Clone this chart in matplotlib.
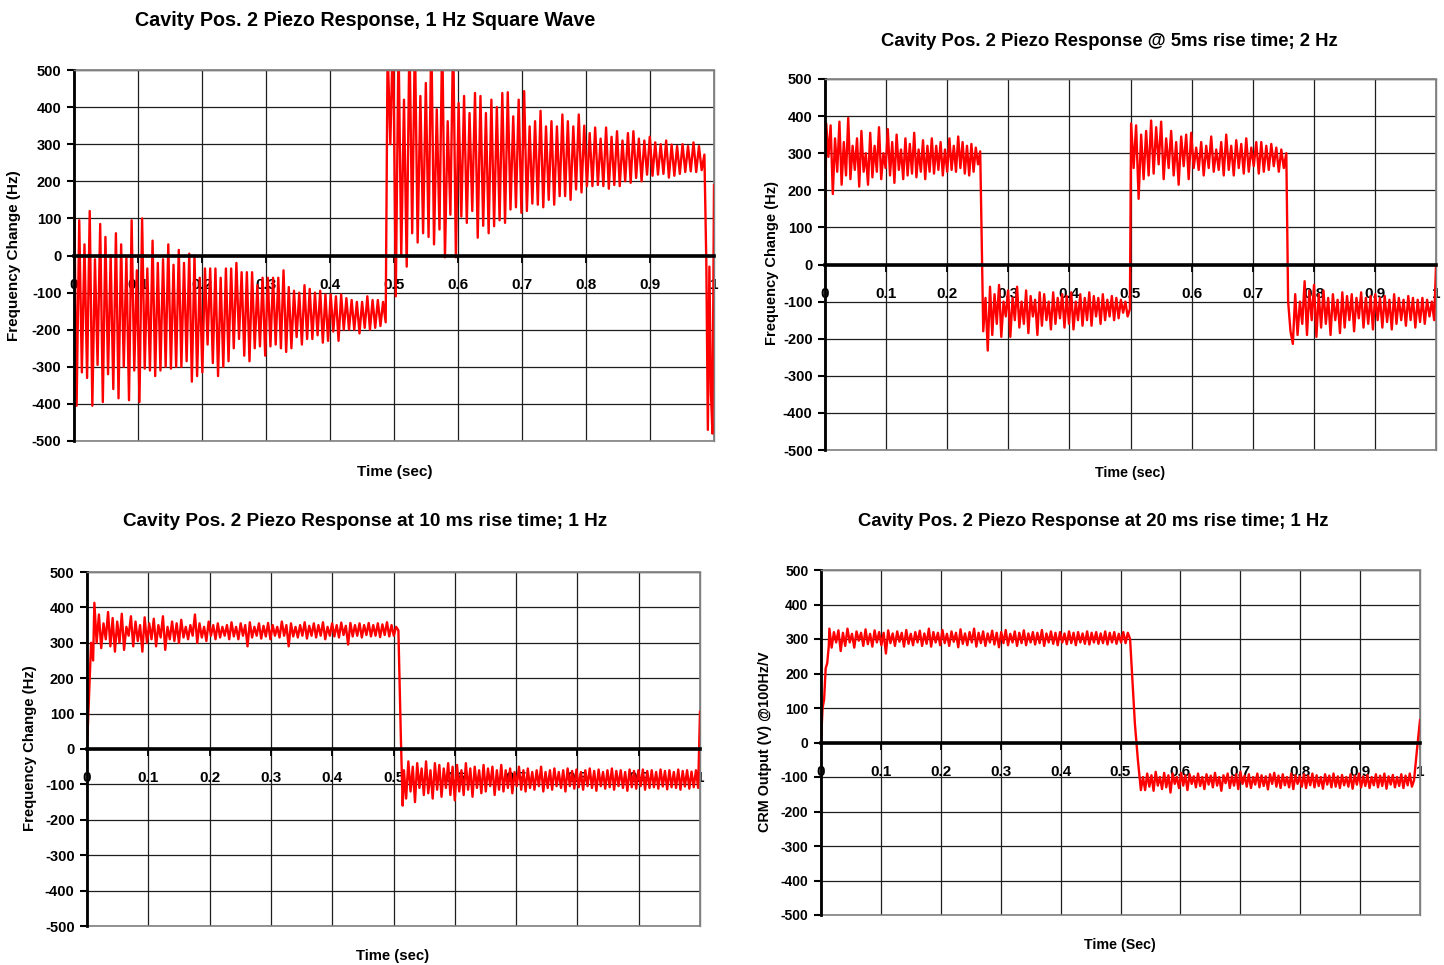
import matplotlib

matplotlib.use("Agg")
import matplotlib.pyplot as plt
import numpy as np
from matplotlib.patches import Rectangle

plt.rcParams["font.family"] = ["Liberation Sans", "DejaVu Sans"]
plt.rcParams["font.weight"] = "bold"
plt.rcParams["axes.unicode_minus"] = False

RED = "#ff0000"

# ---- data (Hz); each block is spread evenly over its time span ----
# panel 1: 1 Hz square wave
p1_low = [195, -405, 95, -315, 30, -330, 120, -405, -10, -295, 85, -395, 50, -320, 0, -360,
          60, -385, 30, -300, -5, -390, 95, -310, -40, -395, 100, -305, -35, -310, 40, -325,
          -20, -310, -10, -300, 30, -305, -25, -300, 15, -300, -20, -285, 5, -340, 0, -325,
          -60, -315, -35, -240, -35, -290, -35, -325, -60, -300, -35, -285, -35, -250, -20, -225,
          -45, -270, -45, -285, -45, -250, -80, -245, -60, -270, -60, -245, -60, -240, -60, -250,
          -40, -260, -85, -250, -95, -220, -100, -240, -80, -225, -90, -225, -100, -215, -95, -235,
          -105, -230, -105, -205, -110, -230, -105, -200, -115, -200, -120, -200, -125, -210, -125, -195,
          -110, -200, -120, -195, -120, -190, -125, -180]
p1_high = [560, 300, 620, -110, 580, 0, 420, -30, 600, 60, 590, 35, 430, 60, 465, 50,
           600, 30, 394, 70, 600, -5, 362, 110, 600, -5, 411, 105, 430, 88, 384, 120,
           438, 48, 430, 80, 384, 60, 420, 79, 400, 95, 438, 88, 440, 124, 375, 130,
           420, 115, 443, 120, 348, 140, 362, 137, 390, 130, 348, 150, 362, 137, 348, 160,
           380, 160, 362, 150, 348, 178, 380, 170, 350, 187, 330, 187, 345, 190, 315, 187,
           345, 180, 320, 190, 335, 187, 310, 200, 330, 196, 335, 209, 315, 200, 310, 218,
           320, 215, 305, 218, 300, 220, 310, 210, 299, 215, 295, 220, 300, 225, 295, 227,
           305, 225, 295, 230, 272]
p1_end = [-20, -470, -30, -370, -480, 190]

# panel 2: 5 ms rise time, 2 Hz
p2_high1 = [380, 290, 375, 190, 340, 250, 385, 215, 330, 240, 395, 230, 320, 255, 340, 210,
            360, 250, 300, 215, 355, 235, 320, 250, 370, 230, 300, 260, 365, 240, 330, 220,
            350, 255, 310, 230, 340, 240, 325, 245, 355, 235, 310, 250, 335, 230, 320, 250,
            340, 245, 320, 255, 330, 240, 310, 250, 340, 255, 320, 250, 345, 260, 330, 245,
            320, 240, 325, 250, 315, 270, 305]
p2_low1 = [-180, -90, -232, -60, -190, -80, -160, -55, -195, -100, -140, -70, -195, -90, -150, -60,
           -170, -100, -160, -70, -185, -85, -140, -95, -190, -75, -165, -80, -150, -100, -175, -75,
           -160, -90, -145, -80, -170, -85, -160, -75, -175, -100, -150, -80, -165, -90, -150, -75,
           -165, -85, -140, -90, -160, -80, -150, -95, -140, -85, -150, -90, -145, -95, -130, -100,
           -140, -120]
p2_high2 = [380, 260, 375, 177, 350, 230, 360, 240, 388, 245, 370, 270, 385, 230, 340, 260,
            360, 240, 330, 215, 345, 265, 350, 230, 355, 260, 315, 255, 330, 240, 320, 260,
            345, 250, 310, 255, 330, 240, 350, 255, 320, 240, 335, 260, 325, 245, 340, 250,
            315, 265, 330, 245, 330, 250, 320, 255, 325, 265, 315, 250, 310, 260, 300]
p2_low2 = [-100, -180, -214, -80, -190, -100, -160, -45, -190, -70, -150, -55, -195, -80, -170, -70,
           -160, -90, -190, -80, -150, -95, -185, -75, -170, -85, -150, -80, -180, -90, -145, -75,
           -170, -90, -160, -85, -175, -80, -150, -90, -170, -85, -155, -95, -175, -80, -160, -90,
           -150, -95, -165, -85, -150, -90, -170, -95, -155, -90, -160, -95, -140, -100, -150]

# panel 3: 10 ms rise time, 1 Hz
p3_rise = [0, 150, 300, 250]
p3_high = [413, 300, 380, 285, 355, 310, 387, 290, 370, 275, 360, 300, 382, 280, 345, 320,
           375, 290, 360, 305, 350, 275, 372, 300, 355, 310, 368, 290, 350, 315, 375, 280,
           345, 310, 360, 305, 355, 300, 365, 315, 345, 310, 350, 320, 380, 300, 355, 315,
           345, 305, 360, 320, 350, 310, 355, 315, 345, 320, 350, 310, 358, 318, 345, 310,
           355, 320, 350, 290, 358, 315, 345, 320, 355, 312, 348, 318, 356, 310, 350, 320,
           345, 315, 360, 320, 350, 290, 355, 318, 345, 315, 350, 320, 358, 312, 348, 320,
           355, 315, 350, 320, 358, 310, 345, 320, 355, 318, 350, 315, 357, 322, 348, 295,
           356, 318, 350, 320, 355, 315, 350, 322, 356, 318, 350, 320, 355, 316, 352, 322,
           358, 318, 350, 320, 345, 335]
p3_fall = [33, -160]
p3_low = [-60, -140, -35, -120, -50, -150, -40, -110, -55, -130, -35, -125, -60, -140, -40, -115,
          -45, -135, -55, -110, -40, -130, -50, -145, -45, -120, -60, -130, -40, -115, -55, -135,
          -50, -110, -60, -125, -45, -120, -55, -105, -50, -130, -60, -115, -45, -120, -60, -110,
          -55, -125, -65, -105, -50, -115, -60, -120, -55, -110, -65, -115, -60, -105, -50, -120,
          -65, -110, -60, -115, -55, -105, -65, -110, -60, -120, -55, -105, -62, -112, -58, -108,
          -65, -115, -60, -105, -55, -110, -62, -118, -58, -105, -65, -112, -60, -108, -55, -115,
          -62, -105, -60, -110, -65, -118, -58, -108, -62, -112, -60, -105, -58, -115, -62, -110,
          -60, -108, -65, -112, -58, -106, -62, -114, -60, -108, -65, -110, -58, -115, -62, -106,
          -60, -112, -64, -108, -60, -110]
p3_end = 105

# panel 4: 20 ms rise time, 1 Hz (CRM output)
p4_rise = [0, 100, 125, 215, 230, 280]
p4_high = [330, 275, 320, 290, 325, 265, 318, 280, 330, 290, 315, 275, 322, 295, 318, 280,
           328, 285, 315, 278, 325, 290, 320, 282, 318, 258, 325, 288, 316, 280, 322, 292,
           318, 278, 326, 286, 315, 282, 320, 290, 324, 280, 316, 286, 330, 278, 320, 290,
           318, 282, 326, 288, 315, 280, 322, 292, 318, 276, 328, 286, 316, 282, 320, 290,
           330, 278, 318, 288, 322, 280, 316, 290, 324, 284, 318, 276, 320, 288, 326, 282,
           315, 290, 322, 280, 318, 288, 325, 282, 316, 290, 320, 284, 318, 288, 326, 280,
           316, 290, 322, 286, 318, 282, 320, 290, 316, 285, 322, 288, 318, 282, 320, 290,
           316, 286, 322, 284, 318, 290, 320, 286, 316, 288, 322, 284, 318, 290, 320, 286,
           315, 290, 320, 288, 318, 300]
p4_fall = [55, -50]
p4_low = [-138, -100, -138, -90, -128, -95, -140, -85, -125, -100, -135, -88, -130, -95, -145, -90,
          -120, -100, -132, -88, -125, -95, -138, -92, -120, -98, -130, -90, -126, -100, -135, -92,
          -122, -96, -130, -88, -125, -100, -140, -95, -118, -90, -132, -98, -125, -92, -135, -85,
          -120, -96, -128, -92, -132, -100, -122, -90, -130, -95, -126, -98, -136, -92, -120, -88,
          -128, -96, -132, -92, -124, -100, -130, -90, -135, -95, -120, -98, -128, -92, -132, -96,
          -124, -90, -130, -95, -126, -100, -134, -92, -122, -96, -130, -90, -128, -98, -132, -94,
          -124, -100, -128, -92, -134, -96, -122, -90, -130, -98, -126, -94, -132, -100, -124, -92,
          -130, -96, -126, -90, -134, -98, -122, -94, -130, -100, -126, -92, -132, -96, -124, -90,
          -128, -110]
p4_end = [-20, 65]

x_ticks = np.round(np.arange(0, 1.01, 0.1), 1)
x_labels = ["0", "0.1", "0.2", "0.3", "0.4", "0.5", "0.6", "0.7", "0.8", "0.9", "1"]
y_ticks = np.arange(-500, 501, 100)


def seg(t0, t1, vals):
    return np.linspace(t0, t1, len(vals)), np.asarray(vals, dtype=float)


def join(*parts):
    t = np.concatenate([p[0] for p in parts])
    v = np.concatenate([p[1] for p in parts])
    return t, v


def style(ax, fs=10.5):
    ax.set_xlim(0, 1)
    ax.set_ylim(-500, 500)
    ax.set_xticks(x_ticks)
    ax.set_xticklabels(x_labels)
    ax.set_yticks(y_ticks)
    ax.grid(True, color="#1e1e1e", lw=0.9)
    ax.set_axisbelow(True)
    ax.spines["bottom"].set_position(("data", 0))
    ax.spines["bottom"].set_linewidth(2.6)
    ax.spines["bottom"].set_color("black")
    ax.spines["left"].set_linewidth(2.0)
    ax.spines["left"].set_color("black")
    for s in ("top", "right"):
        ax.spines[s].set_color("#808080")
        ax.spines[s].set_linewidth(1.0)
    ax.add_patch(Rectangle((0, 0), 1, 1, transform=ax.transAxes, fill=False,
                           ec="#808080", lw=1.2, zorder=1.5, clip_on=False))
    ax.tick_params(axis="x", direction="out", length=5, width=1.3, pad=11, labelsize=11)
    ax.tick_params(axis="y", direction="out", length=5, width=1.5, pad=4, labelsize=fs)


fig = plt.figure(figsize=(14.44, 9.65), dpi=100)
W, H = 1444.0, 965.0
LW = 1.7


def axes_px(l, r, t, b):
    return fig.add_axes([l / W, 1 - b / H, (r - l) / W, (b - t) / H])


def ftext(x, y, s, **kw):
    fig.text(x / W, 1 - y / H, s, ha="center", va="center", fontweight="bold", **kw)


# panel 1
ax1 = axes_px(74, 714, 70, 441)
t1, v1 = join(seg(0.0, 0.487, p1_low), seg(0.490, 0.985, p1_high), seg(0.988, 1.0, p1_end))
ax1.plot(t1, v1, color=RED, lw=LW)
style(ax1)
ftext(365, 20, "Cavity Pos. 2 Piezo Response, 1 Hz Square Wave", fontsize=14.2)
ftext(395, 472, "Time (sec)", fontsize=11)
ftext(14, 256, "Frequency Change (Hz)", fontsize=11, rotation=90)

# panel 2
ax2 = axes_px(825, 1436, 79, 450)
t2, v2 = join(seg(0.0, 0.0, [0]), seg(0.002, 0.254, p2_high1), seg(0.259, 0.499, p2_low1),
              seg(0.501, 0.755, p2_high2), seg(0.758, 0.997, p2_low2), seg(1.0, 1.0, [-5]))
ax2.plot(t2, v2, color=RED, lw=LW)
style(ax2)
ftext(1109, 41, "Cavity Pos. 2 Piezo Response @ 5ms rise time; 2 Hz", fontsize=13.3)
ftext(1130, 473, "Time (sec)", fontsize=10.3)
ftext(772, 263, "Frequency Change (Hz)", fontsize=10.5, rotation=90)

# panel 3
ax3 = axes_px(87, 700, 572, 926)
t3, v3 = join(seg(0.0, 0.010, p3_rise), seg(0.012, 0.508, p3_high), seg(0.512, 0.515, p3_fall),
              seg(0.517, 0.997, p3_low), seg(1.0, 1.0, [p3_end]))
ax3.plot(t3, v3, color=RED, lw=LW)
style(ax3)
ftext(365, 522, "Cavity Pos. 2 Piezo Response at 10 ms rise time; 1 Hz", fontsize=13.7)
ftext(393, 956, "Time (sec)", fontsize=10.7)
ftext(30, 748, "Frequency Change (Hz)", fontsize=10.7, rotation=90)

# panel 4
ax4 = axes_px(821, 1420, 570, 915)
t4, v4 = join(seg(0.0, 0.013, p4_rise), seg(0.014, 0.516, p4_high), seg(0.524, 0.529, p4_fall),
              seg(0.534, 0.990, p4_low), seg(0.995, 1.0, p4_end))
ax4.plot(t4, v4, color=RED, lw=LW)
style(ax4, fs=10)
ftext(1093, 521, "Cavity Pos. 2 Piezo Response at 20 ms rise time; 1 Hz", fontsize=13.3)
ftext(1120, 945, "Time (Sec)", fontsize=10.3)
ftext(765, 742, "CRM Output (V) @100Hz/V", fontsize=10.4, rotation=90)

fig.savefig("out.png", dpi=100, facecolor="white")
